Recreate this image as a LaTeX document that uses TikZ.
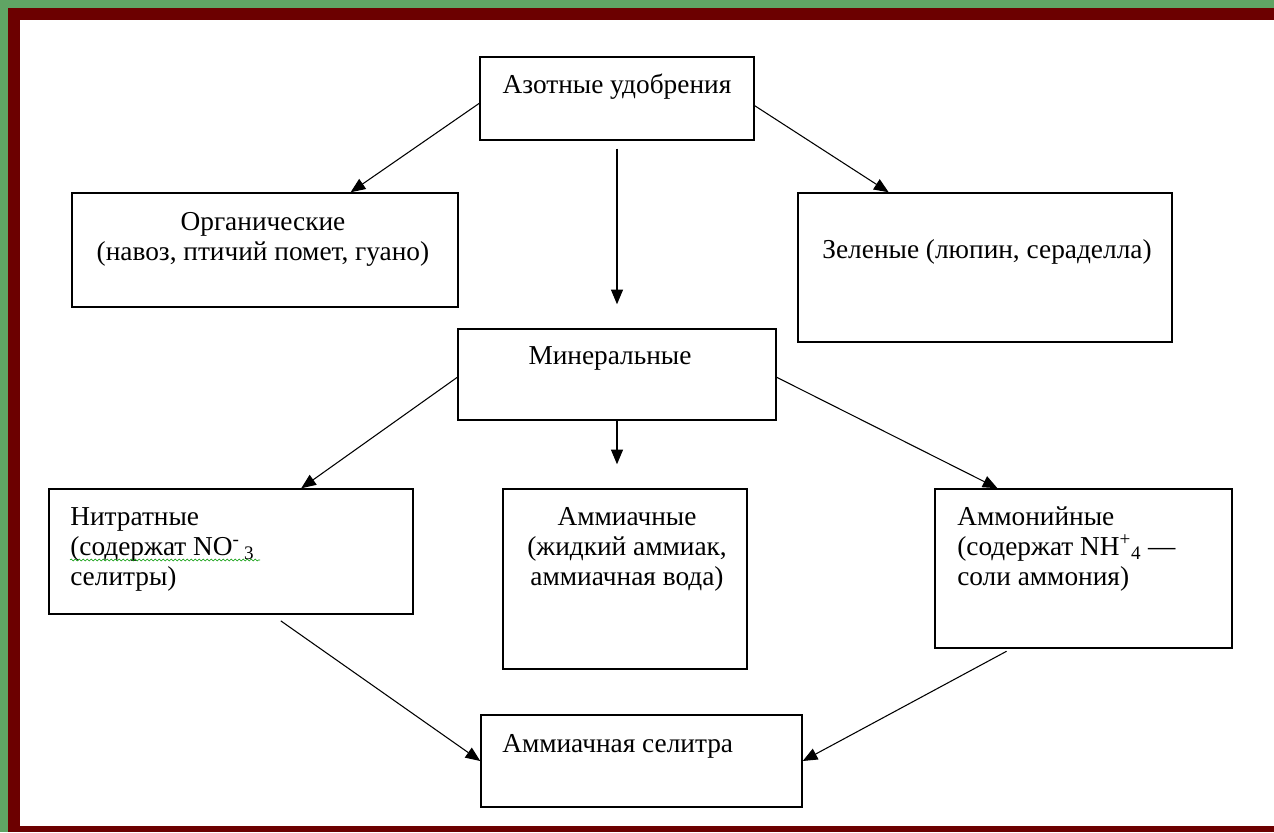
\documentclass[tikz,border=0pt]{standalone}
\usepackage{fontspec}
\setmainfont{Liberation Serif}
\usepackage{xcolor}
\usetikzlibrary{positioning, fit, arrows.meta, decorations.pathmorphing}

\definecolor{framegreen}{RGB}{96,164,100}
\definecolor{framered}{RGB}{108,0,0}

\begin{document}
\begin{tikzpicture}[x=0.75pt, y=-0.75pt]

			\tikzstyle{box}=[draw=black, line width=1.1pt, inner sep=0pt]
			\tikzstyle{txt}=[font=\fontsize{20.5}{22.5}\selectfont, inner sep=0pt, anchor=north]
			\tikzstyle{arr}=[-{Triangle[length=11pt, width=9pt]}, line width=0.8pt]
			
			% frame
			\fill [framegreen] (0,0) rectangle (1274,832);
			\fill [framered] (8,8) rectangle (1274,832);
			\fill [white] (20,20) rectangle (1274,826);
			
			\node (azot) [box, fit={(480,57) (754,140)}] {};
			\node (org) [box, fit={(72,193) (458,307)}] {};
			\node (zel) [box, fit={(798,193) (1172,342)}] {};
			\node (min) [box, fit={(458,329) (776,420)}] {};
			\node (nitr) [box, fit={(49,489) (413,614)}] {};
			\node (amiak) [box, fit={(503,489) (747,669)}] {};
			\node (amon) [box, fit={(935,489) (1232,648)}] {};
			\node (selitra) [box, fit={(481,715) (802,807)}] {};
			
			\node (azottxt) at (617,72) [txt] {\strut Азотные удобрения};
			\node (orgtxt) at (263,209) [txt, align=center] {\strut Органические\\(навоз, птичий помет, гуано)};
			\node (zeltxt) at (987,237) [txt] {\strut Зеленые (люпин, сераделла)};
			\node (mintxt) at (610,343) [txt] {\strut Минеральные};
			\node (nitrtxt) at (70,504) [txt, anchor=north west, align=left] {\strut Нитратные\\(содержат NO\textsuperscript{-}\,\textsubscript{3}\\селитры)};
			\node (amiaktxt) at (627,504) [txt, align=center] {\strut Аммиачные\\(жидкий аммиак,\\ аммиачная вода)};
			\node (amontxt) at (957,504) [txt, anchor=north west, align=left] {\strut Аммонийные\\(содержат NH\textsuperscript{+}\textsubscript{4} ---\\соли аммония)};
			\node (selitratxt) at (502,731) [txt, anchor=north west] {\strut Аммиачная селитра};
			
			% spell check squiggle
			\draw [green!60!black, line width=0.4pt, decorate, decoration={snake, segment length=3pt, amplitude=0.7pt}] (nitrtxt.west |- 0,560) -- (260,560);
			
			\draw [arr] (azot.182) -- (org.34);
			\draw [arr] (azot.-3.5) -- (zel.142.5);
			\draw [arr, shorten <=6pt, shorten >=18pt] (azot) -- (min);
			
			\draw [arr] (min.181) -- (nitr.42);
			\draw [arr, shorten >=18pt] (min) -- (min |- amiak.north);
			\draw [arr] (min.-1) -- (amon.137);
			
			\draw [arr, shorten <=8pt] (nitr.-57.4) -- (selitra.west);
			\draw [arr, shorten <=4pt] (amon.-132) -- (selitra.east);
			
\end{tikzpicture}
\end{document}
